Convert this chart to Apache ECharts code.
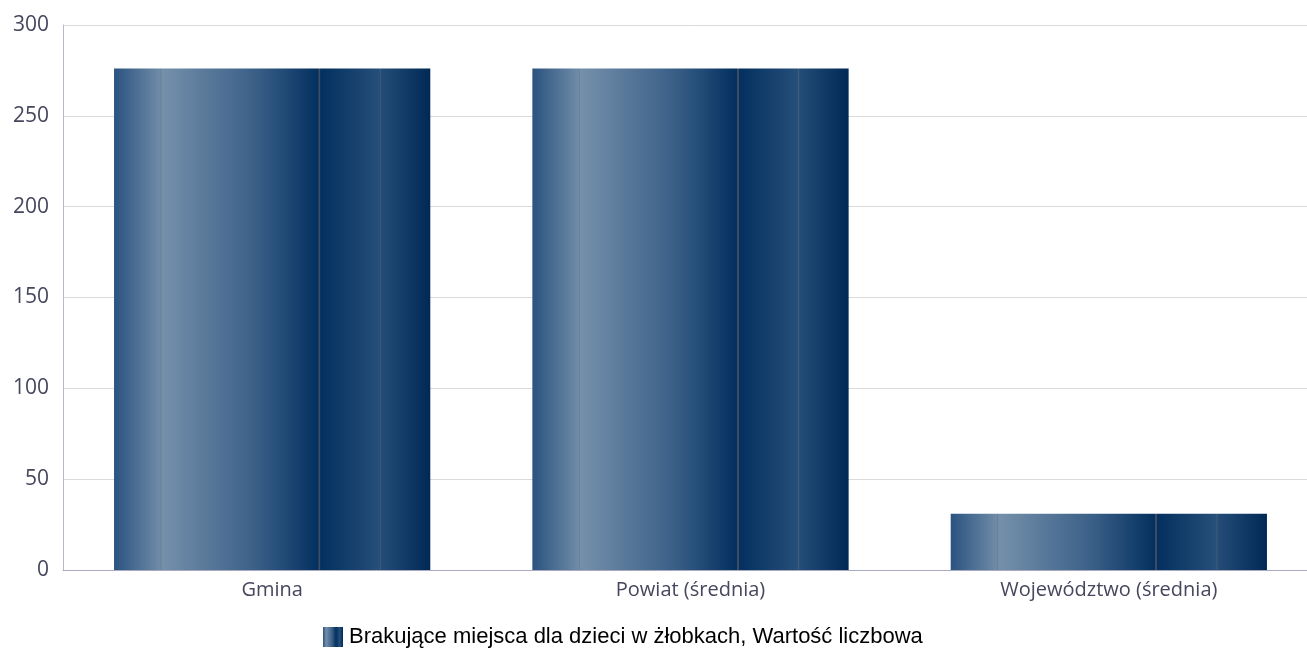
<!DOCTYPE html>
<html><head><meta charset="utf-8">
<script src="https://cdn.jsdelivr.net/npm/echarts@6/dist/echarts.min.js"></script>
<style>html,body{margin:0;padding:0;background:#fff;overflow:hidden;width:1307px;height:650px}#c{width:1318px;height:650px}</style>
</head><body><div id="c"></div>
<script>
const categories = ['Gmina', 'Powiat (średnia)', 'Województwo (średnia)'];
const seriesName = 'Brakujące miejsca dla dzieci w żłobkach, Wartość liczbowa';
const values = [276, 276, 31];
const yTicks = { min: 0, max: 300, interval: 50 };

const grad = new echarts.graphic.LinearGradient(0, 0, 1, 0, [
  {offset: 0, color: '#2a5380'},
  {offset: 0.146, color: '#6f8ba7'},
  {offset: 0.148, color: '#687f98'},
  {offset: 0.152, color: '#7590ab'},
  {offset: 0.45, color: '#3a5f87'},
  {offset: 0.646, color: '#03305f'},
  {offset: 0.647, color: '#3c4c62'},
  {offset: 0.652, color: '#3c4c62'},
  {offset: 0.653, color: '#03305f'},
  {offset: 0.84, color: '#264f79'},
  {offset: 0.841, color: '#4a5f78'},
  {offset: 0.845, color: '#244c77'},
  {offset: 1, color: '#002956'}
]);

const chart = echarts.init(document.getElementById('c'), null, {renderer: 'canvas'});
chart.setOption({
  animation: false,
  grid: { left: 63, right: 0, top: 25, bottom: 80 },
  legend: {
    top: 621, left: 318,
    icon: 'rect',
    itemWidth: 20, itemHeight: 20, itemGap: 6,
    textStyle: { fontFamily: 'Liberation Sans, Arial', fontSize: 22, color: '#000', padding: [0,0,0,1] },
    data: [seriesName]
  },
  xAxis: {
    type: 'category', data: categories,
    axisLine: { lineStyle: { color: '#a9a9c0', width: 1 } },
    axisTick: { show: false },
    axisLabel: { fontFamily: 'Open Sans', fontSize: 20, color: '#46465e', margin: 10 }
  },
  yAxis: {
    type: 'value', min: yTicks.min, max: yTicks.max, interval: yTicks.interval,
    axisLine: { show: true, lineStyle: { color: '#b8b8cc' } },
    axisTick: { show: false },
    splitLine: { lineStyle: { color: '#dadada' } },
    axisLabel: { fontFamily: 'Open Sans', fontSize: 21, color: '#46465e', margin: 14 }
  },
  series: [{
    name: seriesName, type: 'bar', data: values,
    barWidth: '75.6%',
    itemStyle: { color: grad }
  }]
});
</script></body></html>
